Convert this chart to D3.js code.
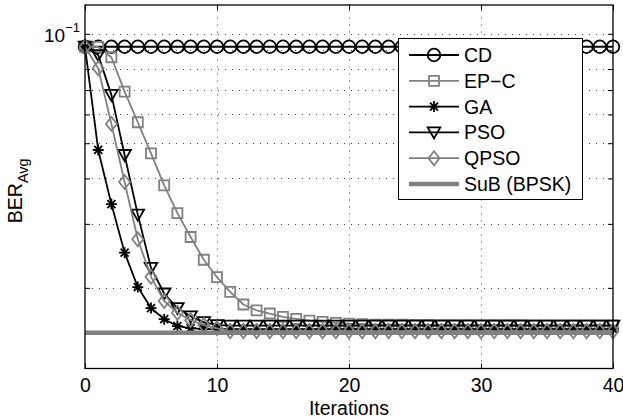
<!DOCTYPE html>
<html>
<head>
<meta charset="utf-8">
<script src="https://cdn.jsdelivr.net/npm/d3@7"></script>
<style>
  body { margin: 0; background: #fff; }
  text { font-family: "Liberation Sans", Arial, sans-serif; fill: #000; }
</style>
</head>
<body>
<div id="chart"></div>
<script>
var W = 623, H = 419;

// x: iteration index, y: average BER (log)
var iterations = [0,1,2,3,4,5,6,7,8,9,10,11,12,13,14,15,16,17,18,19,20,
  21,22,23,24,25,26,27,28,29,30,31,32,33,34,35,36,37,38,39,40];
var xTicks = [0, 10, 20, 30, 40];
var yGrid = [0.02, 0.03, 0.04, 0.05, 0.06, 0.07, 0.08, 0.09, 0.1];

var cdBer = [0.0921,0.0921,0.0921,0.0921,0.0921,0.0921,0.0921,0.0921,0.0921,0.0921,0.0921,
  0.0921,0.0921,0.0921,0.0921,0.0921,0.0921,0.0921,0.0921,0.0921,0.0921,
  0.0921,0.0921,0.0921,0.0921,0.0921,0.0921,0.0921,0.0921,0.0921,0.0921,
  0.0921,0.0921,0.0921,0.0921,0.0921,0.0921,0.0921,0.0921,0.0921,0.0921];
var epcBer = [0.0921,0.0920,0.0862,0.0693,0.0571,0.0469,0.0383,0.0321,0.0276,0.0239,0.0214,
  0.0195,0.0180,0.01735,0.0170,0.01665,0.01644,0.01626,0.01613,0.01602,0.01594,
  0.01589,0.01585,0.01584,0.01583,0.01582,0.01581,0.01580,0.01580,0.01579,0.01579,
  0.01578,0.01578,0.01578,0.01577,0.01577,0.01577,0.01577,0.01576,0.01576,0.01576];
var gaBer = [0.0921,0.0479,0.0340,0.0250,0.0201,0.0176,0.0164,0.0157,0.0155,0.0154,0.0154,
  0.0154,0.0154,0.0154,0.0154,0.0154,0.0154,0.0154,0.0154,0.0154,0.0154,
  0.0154,0.0154,0.0154,0.0154,0.0154,0.0154,0.0154,0.0154,0.0154,0.0154,
  0.0154,0.0154,0.0154,0.0154,0.0154,0.0154,0.0154,0.0154,0.0154,0.0154];
var psoBer = [0.0921,0.0874,0.0679,0.0464,0.0318,0.0227,0.0193,0.0176,0.0167,0.0161,0.0158,
  0.01575,0.01575,0.01575,0.01575,0.01575,0.01575,0.01575,0.01575,0.01575,0.01575,
  0.01575,0.01575,0.01575,0.01575,0.01575,0.01575,0.01575,0.01575,0.01575,0.01575,
  0.01575,0.01575,0.01575,0.01575,0.01575,0.01575,0.01575,0.01575,0.01575,0.01575];
var qpsoBer = [0.0921,0.0804,0.0565,0.0391,0.0272,0.02145,0.0184,0.01708,0.0163,0.0158,0.01548,
  0.0152,0.0152,0.0152,0.0152,0.0152,0.0152,0.0152,0.0152,0.0152,0.0152,
  0.0152,0.0152,0.0152,0.0152,0.0152,0.0152,0.0152,0.0152,0.0152,0.0152,
  0.0152,0.0152,0.0152,0.0152,0.0152,0.0152,0.0152,0.0152,0.0152,0.0152];
var subIter = [0, 40];
var subBer = [0.01505, 0.01505];

var names = ["CD", "EP\u2212C", "GA", "PSO", "QPSO", "SuB (BPSK)"];

var GRAY = "#808080";
var LW = 1.8;

var x = d3.scaleLinear().domain([0, 40]).range([85, 613]);
var y = d3.scaleLog().domain([0.012, 0.12]).range([368.5, 5]);

var svg = d3.select("#chart").append("svg")
  .attr("width", W).attr("height", H)
  .style("background", "#fff");

// grid
var grid = svg.append("g")
  .attr("stroke", "#444").attr("stroke-width", 1)
  .attr("stroke-dasharray", "1,6");
grid.selectAll(".gy").data(yGrid).enter().append("line")
  .attr("x1", x(0)).attr("x2", x(40))
  .attr("y1", function(d) { return Math.round(y(d)) + 0.5; })
  .attr("y2", function(d) { return Math.round(y(d)) + 0.5; });
grid.selectAll(".gx").data(xTicks.slice(1, 4)).enter().append("line")
  .attr("y1", y(0.012)).attr("y2", y(0.12))
  .attr("x1", function(d) { return Math.round(x(d)) + 0.5; })
  .attr("x2", function(d) { return Math.round(x(d)) + 0.5; });

// axes (ticks point inward like matlab)
var xAxis = d3.axisBottom(x).tickValues(xTicks).tickSizeInner(-5).tickSizeOuter(0).tickPadding(10);
var gx = svg.append("g").attr("transform", "translate(0," + y(0.012) + ")").call(xAxis);
gx.select(".domain").remove();
gx.selectAll("text").style("font-size", "19.5px").style("font-family", "Liberation Sans, Arial, sans-serif");

var gxTop = svg.append("g").attr("transform", "translate(0," + y(0.12) + ")")
  .call(d3.axisTop(x).tickValues(xTicks).tickSizeInner(-5).tickSizeOuter(0).tickFormat(""));
gxTop.select(".domain").remove();

var gyl = svg.append("g").attr("transform", "translate(" + x(0) + ",0)")
  .call(d3.axisLeft(y).tickValues(yGrid).tickSizeInner(-5).tickSizeOuter(0).tickFormat(""));
gyl.select(".domain").remove();
var gyr = svg.append("g").attr("transform", "translate(" + x(40) + ",0)")
  .call(d3.axisRight(y).tickValues(yGrid).tickSizeInner(-5).tickSizeOuter(0).tickFormat(""));
gyr.select(".domain").remove();

// 10^-1 label
var decade = svg.append("text")
  .attr("x", x(0) - 5).attr("y", y(0.1) + 8)
  .attr("text-anchor", "end").style("font-size", "19px");
decade.append("tspan").text("10");
decade.append("tspan").attr("dy", -10).style("font-size", "13px").text("\u22121");

// series
var series = [
  {name: names[0], vals: cdBer, color: "#000", marker: "circle"},
  {name: names[1], vals: epcBer, color: GRAY, marker: "square"},
  {name: names[2], vals: gaBer, color: "#000", marker: "star"},
  {name: names[3], vals: psoBer, color: "#000", marker: "tri"},
  {name: names[4], vals: qpsoBer, color: GRAY, marker: "diamond"}
];

var markerPath = {
  circle: d3.arc()({innerRadius: 0, outerRadius: 6.3, startAngle: 0, endAngle: 2 * Math.PI}),
  square: "M-5,-5H5V5H-5Z",
  star: "M-5.5,0H5.5M0,-5.5V5.5M-4,-4L4,4M-4,4L4,-4",
  tri: "M-6.3,-5H6.3L0,6Z",
  diamond: "M0,-7L5.5,0L0,7L-5.5,0Z"
};

var line = d3.line()
  .x(function(d) { return x(d[0]); })
  .y(function(d) { return y(d[1]); });

series.forEach(function(s) {
  var pts = iterations.map(function(it, i) { return [it, s.vals[i]]; });
  var g = svg.append("g");
  g.append("path").attr("d", line(pts))
    .attr("fill", "none").attr("stroke", s.color).attr("stroke-width", LW)
    .attr("stroke-linejoin", "round");
  g.selectAll(".m").data(pts).enter().append("path")
    .attr("d", markerPath[s.marker])
    .attr("transform", function(d) { return "translate(" + x(d[0]) + "," + y(d[1]) + ")"; })
    .attr("fill", "none").attr("stroke", s.color).attr("stroke-width", LW);
});

// SuB (BPSK) reference line
svg.append("path")
  .attr("d", line(subIter.map(function(it, i) { return [it, subBer[i]]; })))
  .attr("stroke", GRAY).attr("stroke-width", 4.5).attr("fill", "none");

// box
svg.append("rect")
  .attr("x", x(0)).attr("y", y(0.12))
  .attr("width", x(40) - x(0)).attr("height", y(0.012) - y(0.12))
  .attr("fill", "none").attr("stroke", "#000").attr("stroke-width", 1.3);

// axis labels
svg.append("text").attr("x", (x(0) + x(40)) / 2).attr("y", 415)
  .attr("text-anchor", "middle").style("font-size", "19.5px").text("Iterations");

var yl = svg.append("text")
  .attr("transform", "translate(22," + ((y(0.012) + y(0.12)) / 2 + 4) + ") rotate(-90)")
  .attr("text-anchor", "middle").style("font-size", "19.5px");
yl.append("tspan").text("BER");
yl.append("tspan").attr("dy", 6).style("font-size", "14.5px").text("Avg");

// legend
var lg = svg.append("g");
lg.append("rect").attr("x", 398.5).attr("y", 38.5).attr("width", 184).attr("height", 161)
  .attr("fill", "#fff").attr("stroke", "#000").attr("stroke-width", 1);
var rowY = 55, rowH = 25.8;
series.forEach(function(s, i) {
  var cy = rowY + i * rowH;
  lg.append("line").attr("x1", 409).attr("x2", 459).attr("y1", cy).attr("y2", cy)
    .attr("stroke", s.color).attr("stroke-width", LW);
  lg.append("path").attr("d", markerPath[s.marker])
    .attr("transform", "translate(434," + cy + ")")
    .attr("fill", "none").attr("stroke", s.color).attr("stroke-width", LW);
  lg.append("text").attr("x", 464).attr("y", cy + 7).style("font-size", "19.5px").text(s.name);
});
var subY = rowY + 5 * rowH;
lg.append("line").attr("x1", 409).attr("x2", 459).attr("y1", subY).attr("y2", subY)
  .attr("stroke", GRAY).attr("stroke-width", 4.5);
lg.append("text").attr("x", 464).attr("y", subY + 7).style("font-size", "19.5px").text(names[5]);
</script>
</body>
</html>
